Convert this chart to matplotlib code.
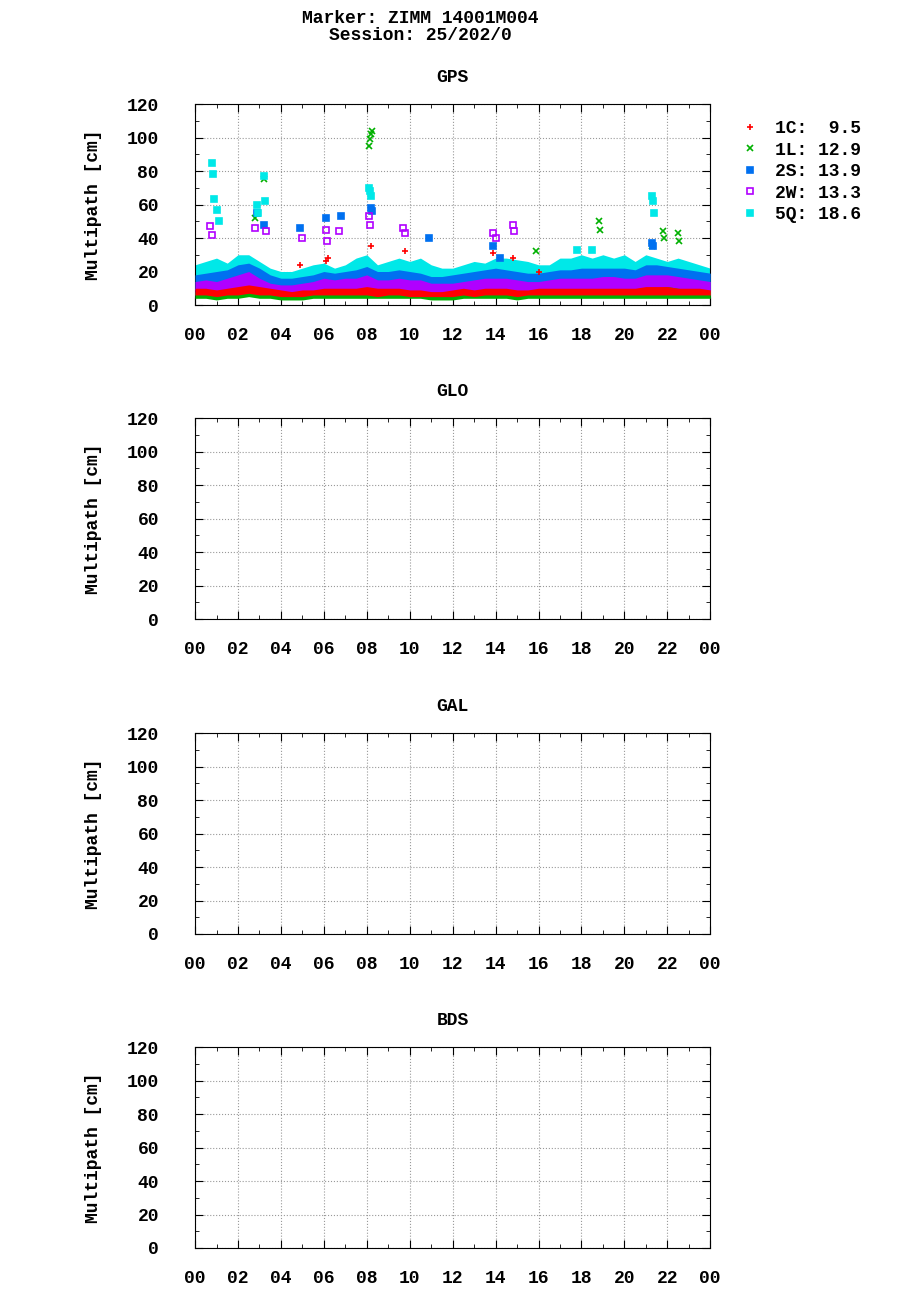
import matplotlib
matplotlib.use("Agg")
import matplotlib.pyplot as plt
from matplotlib.ticker import MultipleLocator

# half-hour sample times 0..24 h
hours = [i * 0.5 for i in range(49)]

# approximate band (low / high) of each GPS signal, cm
c1_lo = [6, 6, 5, 6, 6, 7, 6, 6, 5, 5, 5, 6, 6, 6, 6, 6, 6, 5, 6, 6, 5, 5, 5, 5, 5, 6, 5, 6, 6, 6, 5, 6, 6, 6, 6, 6, 6, 6, 6, 6, 6, 6, 6, 6, 6, 6, 6, 6, 6]
c1_hi = [10, 10, 9, 10, 11, 12, 11, 10, 9, 8, 9, 9, 10, 10, 10, 10, 11, 10, 10, 10, 9, 9, 8, 8, 9, 10, 9, 10, 10, 10, 9, 9, 10, 10, 10, 10, 10, 10, 10, 10, 10, 10, 11, 11, 11, 10, 10, 10, 9]
l1_lo = [4, 4, 3, 4, 4, 5, 4, 4, 3, 3, 3, 4, 4, 4, 4, 4, 4, 4, 4, 4, 4, 4, 3, 3, 3, 4, 4, 4, 4, 4, 3, 4, 4, 4, 4, 4, 4, 4, 4, 4, 4, 4, 4, 4, 4, 4, 4, 4, 4]
l1_hi = [8, 8, 7, 8, 9, 10, 9, 8, 7, 7, 7, 8, 8, 9, 9, 9, 9, 8, 8, 8, 8, 8, 7, 7, 7, 8, 8, 9, 9, 9, 8, 8, 8, 9, 9, 9, 9, 9, 9, 9, 9, 9, 10, 10, 11, 10, 9, 9, 8]
s2_lo = [9, 9, 8, 9, 10, 10, 9, 8, 7, 7, 8, 9, 9, 9, 10, 10, 10, 9, 9, 9, 9, 8, 8, 8, 8, 9, 9, 10, 10, 10, 9, 9, 9, 10, 10, 10, 10, 10, 10, 10, 10, 10, 11, 11, 11, 10, 10, 9, 9]
s2_hi = [18, 19, 20, 21, 24, 25, 22, 18, 16, 16, 17, 18, 20, 19, 20, 21, 23, 20, 20, 21, 20, 19, 17, 17, 18, 19, 20, 21, 22, 21, 20, 19, 19, 20, 21, 21, 22, 22, 22, 22, 22, 21, 24, 24, 23, 22, 21, 20, 19]
w2_lo = [6, 6, 5, 6, 7, 7, 6, 5, 5, 5, 5, 6, 6, 6, 6, 7, 7, 6, 6, 6, 6, 6, 5, 5, 5, 6, 6, 6, 7, 7, 6, 6, 6, 6, 7, 7, 7, 7, 7, 7, 7, 7, 7, 7, 7, 7, 6, 6, 6]
w2_hi = [14, 15, 14, 16, 18, 20, 16, 13, 12, 12, 13, 14, 16, 15, 16, 16, 18, 15, 15, 16, 15, 15, 13, 13, 13, 14, 15, 16, 16, 16, 15, 14, 14, 15, 16, 16, 16, 16, 17, 17, 16, 16, 18, 18, 18, 17, 16, 15, 14]
q5_lo = [14, 14, 13, 14, 16, 17, 15, 13, 12, 12, 12, 13, 14, 14, 15, 15, 16, 14, 14, 15, 14, 14, 12, 12, 13, 14, 14, 15, 15, 15, 14, 14, 14, 15, 15, 16, 16, 16, 16, 16, 16, 16, 17, 17, 17, 16, 15, 15, 14]
q5_hi = [24, 26, 28, 25, 30, 30, 26, 22, 20, 20, 22, 24, 25, 22, 24, 28, 30, 24, 26, 28, 26, 28, 24, 22, 22, 24, 26, 25, 28, 28, 27, 26, 24, 24, 28, 28, 30, 28, 30, 28, 30, 26, 30, 28, 26, 28, 26, 24, 22]

# isolated spikes (hour, cm)
c1_spk_t = [4.9, 6.1, 6.2, 8.2, 9.8, 13.9, 14.8, 16.0]
c1_spk_v = [24, 26, 28, 35, 32, 31, 28, 20]
l1_spk_t = [2.8, 3.2, 8.1, 8.15, 8.2, 8.25, 15.9, 18.8, 18.85, 21.3, 21.8, 21.85, 22.5, 22.55]
l1_spk_v = [52, 75, 95, 99, 102, 104, 32, 50, 45, 35, 44, 40, 43, 38]
s2_spk_t = [2.9, 3.2, 4.9, 6.1, 6.8, 8.2, 8.25, 10.9, 13.9, 14.2, 21.3, 21.35]
s2_spk_v = [55, 48, 46, 52, 53, 58, 56, 40, 35, 28, 37, 35]
w2_spk_t = [0.7, 0.8, 2.8, 3.3, 5.0, 6.1, 6.15, 6.7, 8.1, 8.15, 9.7, 9.8, 13.9, 14.0, 14.8, 14.85]
w2_spk_v = [47, 42, 46, 44, 40, 45, 38, 44, 53, 48, 46, 43, 43, 40, 48, 44]
q5_spk_t = [0.8, 0.85, 0.9, 1.0, 1.1, 2.9, 2.95, 3.2, 3.25, 8.1, 8.15, 8.2, 21.3, 21.35, 21.4, 17.8, 18.5]
q5_spk_v = [85, 78, 63, 57, 50, 60, 55, 77, 62, 70, 68, 65, 65, 62, 55, 33, 33]

legend_labels = ["1C:  9.5", "1L: 12.9", "2S: 13.9", "2W: 13.3", "5Q: 18.6"]
panel_names = ["GPS", "GLO", "GAL", "BDS"]
tick_labels = ["00", "02", "04", "06", "08", "10", "12", "14", "16", "18", "20", "22", "00"]

font = "Liberation Mono"
plt.rcParams["font.family"] = font
plt.rcParams["font.weight"] = "bold"

fig = plt.figure(figsize=(9.2, 13), dpi=100)
fig.text(0.457, 0.992, "Marker: ZIMM 14001M004\nSession: 25/202/0", ha="center", va="top",
         fontsize=13, fontweight="bold", linespacing=0.95)

series = [
    (c1_lo, c1_hi, c1_spk_t, c1_spk_v, "red", "+", True),
    (l1_lo, l1_hi, l1_spk_t, l1_spk_v, "#00b000", "x", True),
    (s2_lo, s2_hi, s2_spk_t, s2_spk_v, "#0070f0", "s", True),
    (w2_lo, w2_hi, w2_spk_t, w2_spk_v, "#b000ff", "s", False),
    (q5_lo, q5_hi, q5_spk_t, q5_spk_v, "#00e8e8", "s", True),
]
band_z = [9, 8, 4, 6, 2]

left, width, height = 0.212, 0.56, 0.1546
tops = [104, 418, 733, 1047]
for i, name in enumerate(panel_names):
    bottom = 1 - (tops[i] + 201) / 1300
    ax = fig.add_axes([left, bottom, width, height])
    ax.set_xlim(0, 24)
    ax.set_ylim(0, 120)
    ax.xaxis.set_minor_locator(MultipleLocator(1))
    ax.yaxis.set_major_locator(MultipleLocator(20))
    ax.yaxis.set_minor_locator(MultipleLocator(10))
    ax.set_xticks(range(0, 25, 2))
    ax.set_xticklabels(tick_labels)
    ax.tick_params(which="both", direction="in", top=True, right=True, labelsize=13)
    ax.tick_params(which="major", length=6)
    ax.tick_params(which="minor", length=3)
    ax.tick_params(axis="x", pad=16)
    ax.tick_params(axis="y", pad=26)
    for lab in ax.get_yticklabels():
        lab.set_horizontalalignment("right")
    ax.grid(True, which="major", linestyle=":", color="#999999", linewidth=0.8)
    ax.set_ylabel("Multipath [cm]", fontsize=13, fontweight="bold")
    ax.yaxis.set_label_coords(-0.18, 0.5)
    ax.set_title(name, fontsize=13, fontweight="bold", pad=16)
    if name != "GPS":
        continue
    for k, (lo, hi, st, sv, col, mk, filled) in enumerate(series):
        ax.fill_between(hours, lo, hi, color=col, linewidth=0, zorder=band_z[k])
        ax.plot(st, sv, linestyle="none", marker=mk, markersize=4, zorder=10,
                color=col, markerfacecolor=col if filled else "none", markeredgewidth=1.2,
                label=legend_labels[k])
    ax.legend(loc="upper left", bbox_to_anchor=(1.02, 1.0), frameon=False,
              prop={"family": font, "weight": "bold", "size": 13}, handletextpad=0.6,
              labelspacing=0.25, markerfirst=True, handlelength=1.5)

fig.savefig("out.png", dpi=100)
